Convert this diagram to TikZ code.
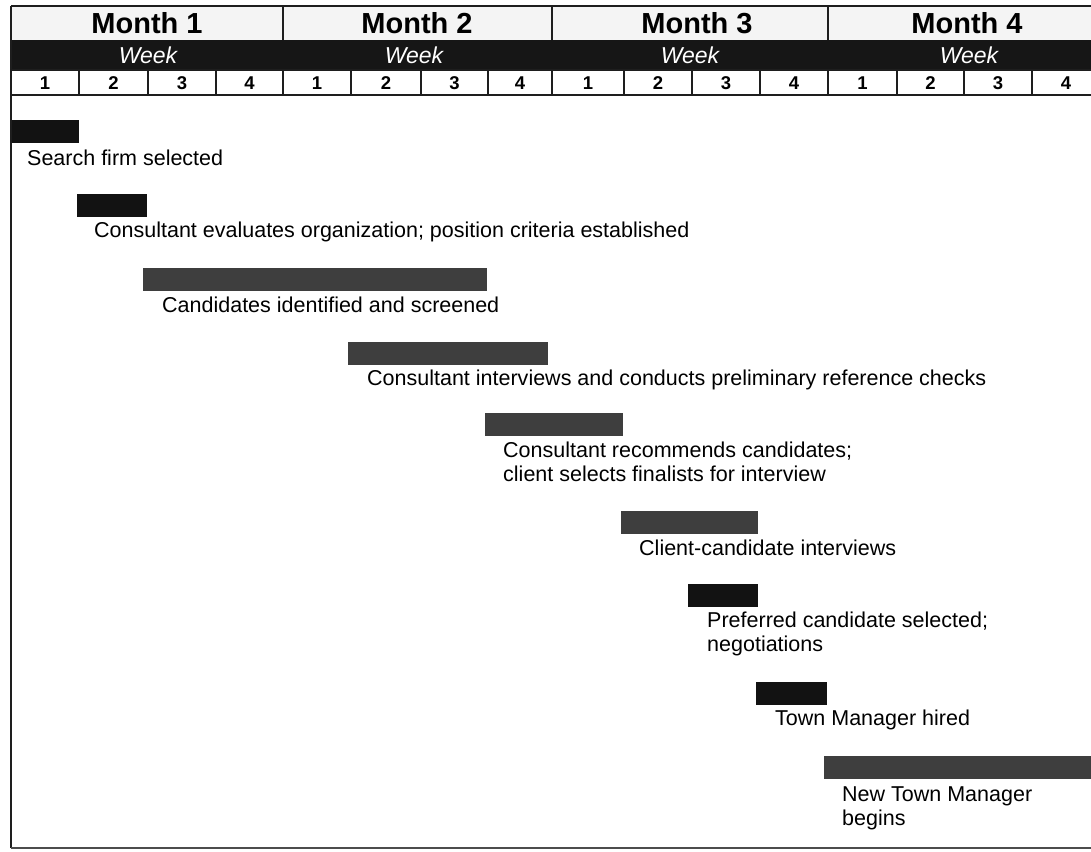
\documentclass[tikz,border=0pt]{standalone}
\usepackage{fontspec}
\setmainfont{Liberation Sans}
\definecolor{barblack}{RGB}{18,18,18}
\definecolor{bargray}{RGB}{62,62,62}
\definecolor{bandblack}{RGB}{22,22,22}
\definecolor{monthbg}{RGB}{244,244,244}
\definecolor{rulecol}{RGB}{30,30,30}
\begin{document}
\begin{tikzpicture}[x=1pt,y=-1pt,
  lbl/.style={anchor=west, inner sep=0pt, font=\fontsize{21.5}{24}\selectfont, align=left},
  blackbar/.style={fill=barblack, draw=none, anchor=north west, inner sep=0pt, minimum height=23pt},
  graybar/.style={fill=bargray, draw=none, anchor=north west, inner sep=0pt, minimum height=23pt},
  monthlbl/.style={inner sep=0pt, font=\fontsize{29}{31}\selectfont\bfseries},
  weeklbl/.style={inner sep=0pt, text=white, font=\fontsize{23}{25}\selectfont\itshape},
  numlbl/.style={inner sep=0pt, font=\fontsize{18.5}{20}\selectfont\bfseries},
  rulel/.style={line width=1.6pt, draw=rulecol}
]
\useasboundingbox (0,0) rectangle (1091,851);

% header backgrounds
\fill[monthbg] (11,6) rectangle (1091,40);
\fill[bandblack] (11,40) rectangle (1091,70);
\fill[white] (11,70) rectangle (1091,95);

% header rules
\draw[rulel] (11,6) -- (1091,6);
\draw[rulel] (11,70) -- (1091,70);
\draw[rulel] (11,95) -- (1091,95);
\foreach \x in {283,552,828}
  \draw[rulel] (\x,6) -- (\x,40);
\foreach \x in {79,148,216,283,351,421,488,552,624,692,760,828,897,964,1032}
  \draw[rulel] (\x,70) -- (\x,95);

% frame
\draw[rulel] (11,6) -- (11,848);
\draw[line width=1.6pt, draw=black!70] (11,848) -- (1091,848);

% month labels
\node[monthlbl] (m1) at (147,23) {Month 1};
\node[monthlbl] (m2) at (417,23) {Month 2};
\node[monthlbl] (m3) at (697,23) {Month 3};
\node[monthlbl] (m4) at (967,23) {Month 4};

% week labels
\node[weeklbl] (w1) at (148,55) {Week};
\node[weeklbl] (w2) at (414,55) {Week};
\node[weeklbl] (w3) at (690,55) {Week};
\node[weeklbl] (w4) at (969,55) {Week};

% week numbers
\foreach \a/\b/\n/\k in {11/79/1/1, 79/148/2/2, 148/216/3/3, 216/283/4/4,
  283/351/1/5, 351/421/2/6, 421/488/3/7, 488/552/4/8,
  552/624/1/9, 624/692/2/10, 692/760/3/11, 760/828/4/12,
  828/897/1/13, 897/964/2/14, 964/1032/3/15, 1032/1100/4/16}
  \node[numlbl] (n\k) at ({(\a+\b)/2},83) {\n};

% bars
\node[blackbar, minimum width=67pt]  (b1) at (12,120) {};
\node[blackbar, minimum width=70pt]  (b2) at (77,194) {};
\node[graybar,  minimum width=344pt] (b3) at (143,268) {};
\node[graybar,  minimum width=200pt] (b4) at (348,342) {};
\node[graybar,  minimum width=138pt] (b5) at (485,413) {};
\node[graybar,  minimum width=137pt] (b6) at (621,511) {};
\node[blackbar, minimum width=70pt]  (b7) at (688,584) {};
\node[blackbar, minimum width=71pt]  (b8) at (756,682) {};
\node[graybar,  minimum width=267pt] (b9) at (824,756) {};

% labels
\node[lbl] (t1) at (27,158) {Search firm selected};
\node[lbl] (t2) at (94,232) {Consultant evaluates organization; position criteria established};
\node[lbl] (t3) at (162,305) {Candidates identified and screened};
\node[lbl] (t4) at (367,380) {Consultant interviews and conducts preliminary reference checks};
\node[lbl] (t5) at (503,462) {Consultant recommends candidates;\\client selects finalists for interview};
\node[lbl] (t6) at (639,548) {Client-candidate interviews};
\node[lbl] (t7) at (707,634) {Preferred candidate selected;\\negotiations};
\node[lbl] (t8) at (775,720) {Town Manager hired};
\node[lbl] (t9) at (842,808) {New Town Manager\\begins};
\end{tikzpicture}
\end{document}
